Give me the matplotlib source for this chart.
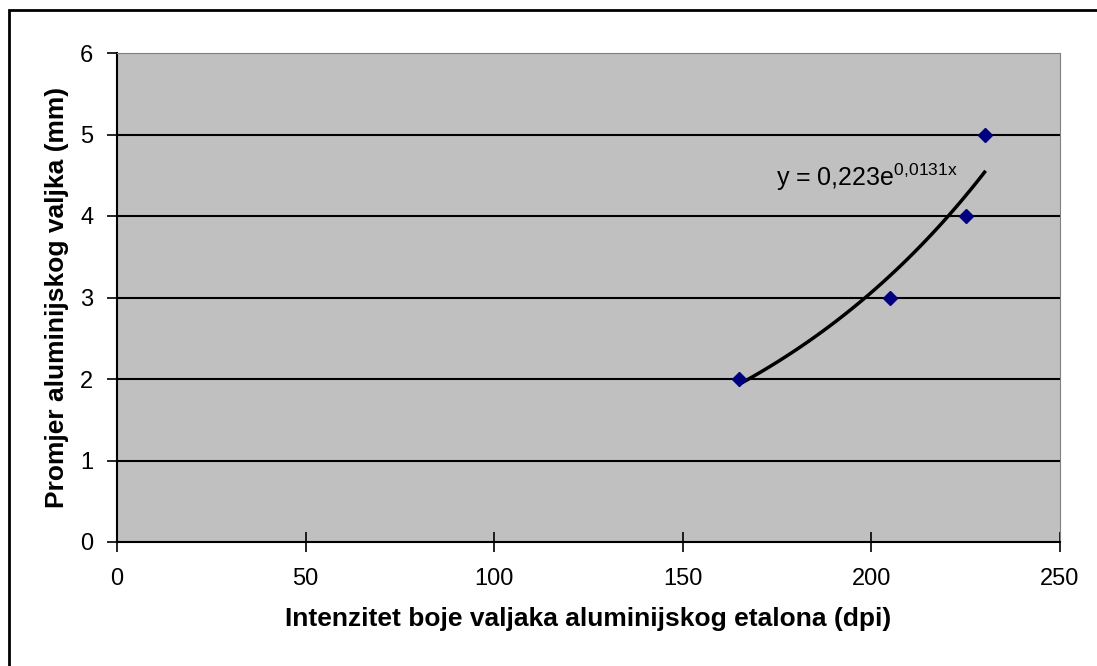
import numpy as np
import matplotlib.pyplot as plt
from matplotlib.patches import Rectangle

plt.rcParams['font.family'] = ['Liberation Sans', 'DejaVu Sans']
plt.rcParams['mathtext.fontset'] = 'custom'
plt.rcParams['mathtext.rm'] = 'Liberation Sans'

# measured points
intenzitet = [165, 205, 225, 230]
promjer = [2, 3, 4, 5]

# exponential trendline y = a*e^(b*x), as printed on the chart
a_coef = 0.223
b_coef = 0.0131
x_trend = np.linspace(min(intenzitet), max(intenzitet), 100)
y_trend = a_coef * np.exp(b_coef * x_trend)

x_ticks = [0, 50, 100, 150, 200, 250]
y_ticks = [0, 1, 2, 3, 4, 5, 6]

fig = plt.figure(figsize=(10.97, 6.66), dpi=100)
ax = fig.add_axes([117 / 1097, 1 - 542 / 666, 943 / 1097, 489 / 666])
ax.set_facecolor('#C0C0C0')

# outer chart border
fig.patches.append(Rectangle((9 / 1097, -0.05), 1.2, 1 - 10 / 666 + 0.05,
                             transform=fig.transFigure, fill=False,
                             edgecolor='black', linewidth=2))

for yv in y_ticks[1:-1]:
    ax.axhline(yv, color='black', linewidth=1.5, zorder=1)

ax.plot(x_trend, y_trend, color='black', linewidth=2.5, zorder=2)
ax.plot(intenzitet, promjer, linestyle='none', marker='D', markersize=7.5,
        color='#000080', zorder=3)

ax.text(174.7, 4.37, r'y = 0,223e$^{\mathregular{0{,}0131x}}$', fontsize=18,
        va='baseline', ha='left')

ax.set_xlim(0, 250)
ax.set_ylim(0, 6)
ax.set_xticks(x_ticks)
ax.set_yticks(y_ticks)
ax.tick_params(axis='both', labelsize=17, length=7, width=1.2, color='black')
ax.tick_params(axis='x', direction='inout', length=14, pad=12)
ax.tick_params(axis='y', pad=10)

ax.spines['left'].set_linewidth(1.5)
ax.spines['bottom'].set_linewidth(1.5)
ax.spines['top'].set_color('#808080')
ax.spines['right'].set_color('#808080')

ax.set_xlabel('Intenzitet boje valjaka aluminijskog etalona (dpi)',
              fontsize=19, fontweight='bold', labelpad=12)
ax.set_ylabel('Promjer aluminijskog valjka (mm)', fontsize=19,
              fontweight='bold', labelpad=8)

fig.savefig('out.png', dpi=100)
